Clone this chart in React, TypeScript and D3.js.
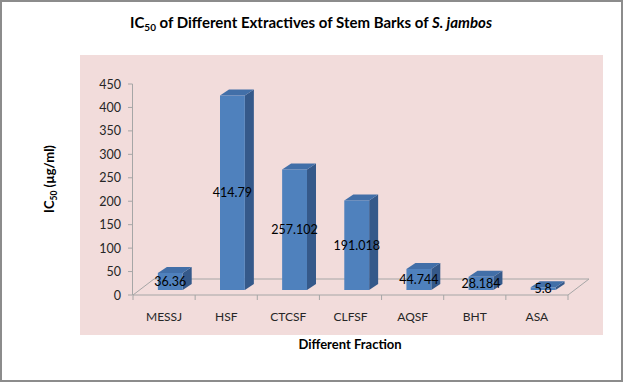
import React from "react";
import * as d3 from "d3";

const categories = ["MESSJ", "HSF", "CTCSF", "CLFSF", "AQSF", "BHT", "ASA"];
const values = [36.36, 414.79, 257.102, 191.018, 44.744, 28.184, 5.8];
const valueLabels = ["36.36", "414.79", "257.102", "191.018", "44.744", "28.184", "5.8"];
const yTicks = [0, 50, 100, 150, 200, 250, 300, 350, 400, 450];

const W = 623;
const H = 382;

export default function App() {
  const x = d3.scaleBand<string>().domain(categories).range([133, 568]).paddingInner(0).paddingOuter(0);
  const y = d3.scaleLinear().domain([0, 450]).range([295, 84]);
  const bw = x.bandwidth();
  const baseShift = -5; // bars sit mid-depth on the floor
  const floorD = { dx: 21, dy: -16 };
  const barD = { dx: 9, dy: -6 };
  const font = "Lato, 'Liberation Sans', sans-serif";

  const front = "#4F81BD";
  const side = "#35598A";
  const top = "#426FA8";

  return (
    <svg
      width={W}
      height={H}
      style={{ position: "absolute", left: 0, top: 0, background: "#fff" }}
      fontFamily={font}
    >
      <rect x={1} y={1} width={W - 2} height={H - 2} fill="#fff" stroke="#8c8c8c" strokeWidth={2} />
      <rect x={80} y={55} width={523} height={280} fill="#F2DCDB" />

      {/* Title */}
      <text x={311} y={28} textAnchor="middle" fontSize={15} fontWeight="bold" fill="#000">
        IC<tspan fontSize={10} dy={3}>50</tspan>
        <tspan dy={-3}> of Different Extractives of Stem Barks of </tspan>
        <tspan fontStyle="italic">S. jambos</tspan>
      </text>

      {/* Floor */}
      <g stroke="#a6a6a6" strokeWidth={1} fill="none">
        <line x1={133} y1={y(0)} x2={568} y2={y(0)} />
        <line x1={133 + floorD.dx} y1={y(0) + floorD.dy} x2={568 + floorD.dx} y2={y(0) + floorD.dy} />
        <line x1={133} y1={y(0)} x2={133 + floorD.dx} y2={y(0) + floorD.dy} />
        <line x1={568} y1={y(0)} x2={568 + floorD.dx} y2={y(0) + floorD.dy} />
        {/* y axis */}
        <line x1={132.5} y1={y(450)} x2={132.5} y2={y(0)} />
        {yTicks.map((t) => (
          <line key={t} x1={128} y1={y(t)} x2={132.5} y2={y(t)} />
        ))}
        {[...categories.map((c) => x(c) as number), 568].map((px, i) => (
          <line key={i} x1={px} y1={y(0)} x2={px} y2={y(0) + 5} />
        ))}
      </g>

      {/* Y tick labels */}
      {yTicks.map((t) => (
        <text key={t} x={121} y={y(t) + 4.5} textAnchor="end" fontSize={12.5} fill="#262626">
          {t}
        </text>
      ))}

      {/* Bars */}
      {categories.map((c, i) => {
        const x0 = (x(c) as number) + bw * 0.4;
        const w = bw * 0.4;
        const yb = y(0) + baseShift;
        const yt = y(values[i]) + baseShift;
        const { dx, dy } = barD;
        return (
          <g key={c}>
            <polygon
              points={`${x0 + w},${yt} ${x0 + w + dx},${yt + dy} ${x0 + w + dx},${yb + dy} ${x0 + w},${yb}`}
              fill={side}
            />
            <polygon
              points={`${x0},${yt} ${x0 + dx},${yt + dy} ${x0 + w + dx},${yt + dy} ${x0 + w},${yt}`}
              fill={top}
            />
            <rect x={x0} y={yt} width={w} height={yb - yt} fill={front} />
          </g>
        );
      })}

      {/* Data labels */}
      {categories.map((c, i) => {
        const x0 = (x(c) as number) + bw * 0.4;
        const w = bw * 0.4;
        const yb = y(0) + baseShift;
        const yt = y(values[i]) + baseShift;
        return (
          <text key={c} x={x0 + w / 2} y={(yb + yt) / 2 + 4.5} textAnchor="middle" fontSize={12.5} fill="#000">
            {valueLabels[i]}
          </text>
        );
      })}

      {/* Category labels */}
      {categories.map((c) => (
        <text key={c} x={(x(c) as number) + bw / 2} y={321} textAnchor="middle" fontSize={12} fill="#262626">
          {c}
        </text>
      ))}

      {/* X title */}
      <text x={350} y={349} textAnchor="middle" fontSize={13} fontWeight="bold" fill="#000">
        Different Fraction
      </text>

      {/* Y title */}
      <text transform="translate(54,179) rotate(-90)" textAnchor="middle" fontSize={13} fontWeight="bold" fill="#000">
        IC<tspan fontSize={8.5} dy={2.5}>50</tspan>
        <tspan dy={-2.5}> (µg/ml)</tspan>
      </text>
    </svg>
  );
}
